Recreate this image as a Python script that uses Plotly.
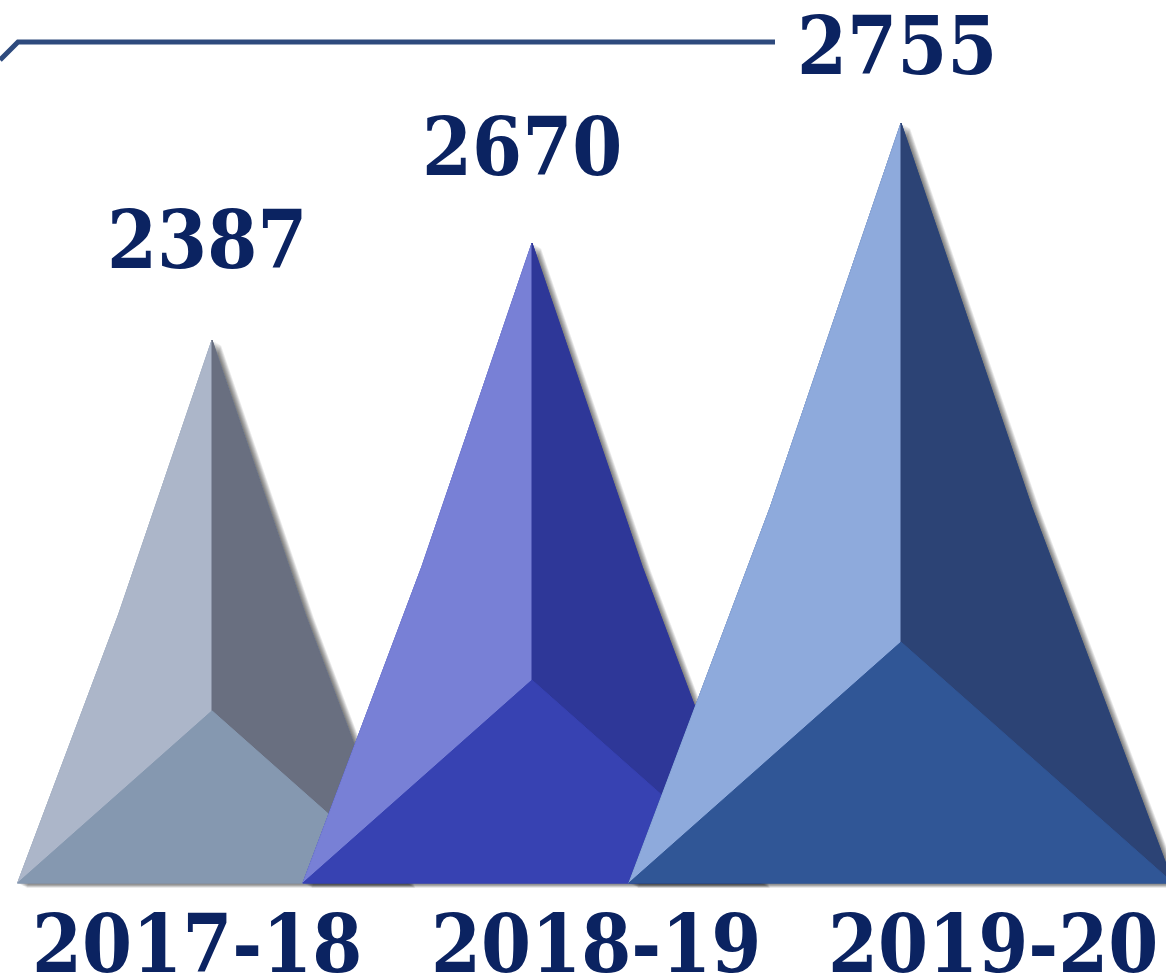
import plotly.graph_objects as go

# ---- data ----
years = ["2017-18", "2018-19", "2019-20"]
values = [2387, 2670, 2755]

# ---- layout / geometry (pixel-like plot units, y up) ----
W, H_PX = 1166, 980
BASE_Y = 97
centers = [212, 532, 901]
peak_heights = [543, 640, 760]
left_colors = ["#acb6c9", "#7880d6", "#8eaadc"]
right_colors = ["#696f80", "#2e3798", "#2c4375"]
bottom_colors = ["#8598b0", "#3742b2", "#305696"]
TEXT_COLOR = "#0b2361"
FONT = "DejaVu Serif Condensed, DejaVu Serif, serif"

value_label_pos = [(207, 740), (522, 833), (897, 934)]
year_label_pos = [(197, 36), (596, 36), (993, 36)]

fig = go.Figure()


def poly(xs, ys, color, opacity=1.0, lw=1):
    fig.add_trace(go.Scatter(
        x=list(xs) + [xs[0]], y=list(ys) + [ys[0]],
        mode="lines", fill="toself", fillcolor=color,
        line=dict(color=color, width=lw), opacity=opacity,
        hoverinfo="skip", showlegend=False))


for i in range(len(values)):
    cx, h = centers[i], peak_heights[i]
    half = 0.358 * h
    apex = (cx, BASE_Y + h)
    lk = (cx - 0.48 * half, BASE_Y + 0.495 * h)
    rk = (cx + 0.48 * half, BASE_Y + 0.495 * h)
    lb = (cx - half, BASE_Y)
    rb = (cx + half, BASE_Y)
    inner = (cx, BASE_Y + 0.317 * h)
    outline = [apex, lk, lb, rb, rk]
    # soft drop shadow
    for k in range(1, 9):
        poly([p[0] + k * 1.1 for p in outline], [p[1] - k * 0.6 for p in outline],
             "rgba(0,0,0,0.085)", lw=0)
    # faces
    poly([p[0] for p in outline], [p[1] for p in outline], bottom_colors[i])
    face_l = [apex, lk, lb, inner]
    face_r = [apex, inner, rb, rk]
    face_b = [lb, inner, rb]
    poly([p[0] for p in face_l], [p[1] for p in face_l], left_colors[i])
    poly([p[0] for p in face_r], [p[1] for p in face_r], right_colors[i])
    poly([p[0] for p in face_b], [p[1] for p in face_b], bottom_colors[i])

# top decorative line
fig.add_trace(go.Scatter(x=[0, 18, 775], y=[H_PX - 60, H_PX - 42, H_PX - 42],
                         mode="lines", line=dict(color="#2e4a7d", width=5),
                         hoverinfo="skip", showlegend=False))

for i in range(len(values)):
    x, y = value_label_pos[i]
    fig.add_annotation(x=x, y=y, text=f"<b>{values[i]}</b>", showarrow=False,
                       xanchor="center", yanchor="middle",
                       font=dict(family=FONT, size=80, color=TEXT_COLOR))
    x, y = year_label_pos[i]
    fig.add_annotation(x=x, y=y, text=f"<b>{years[i]}</b>", showarrow=False,
                       xanchor="center", yanchor="middle",
                       font=dict(family=FONT, size=80, color=TEXT_COLOR))

fig.update_layout(
    width=W, height=H_PX, margin=dict(l=0, r=0, t=0, b=0),
    paper_bgcolor="white", plot_bgcolor="white",
    xaxis=dict(range=[0, W], visible=False, fixedrange=True),
    yaxis=dict(range=[0, H_PX], visible=False, fixedrange=True),
)
fig.write_html("out.html", config={"displayModeBar": False})
